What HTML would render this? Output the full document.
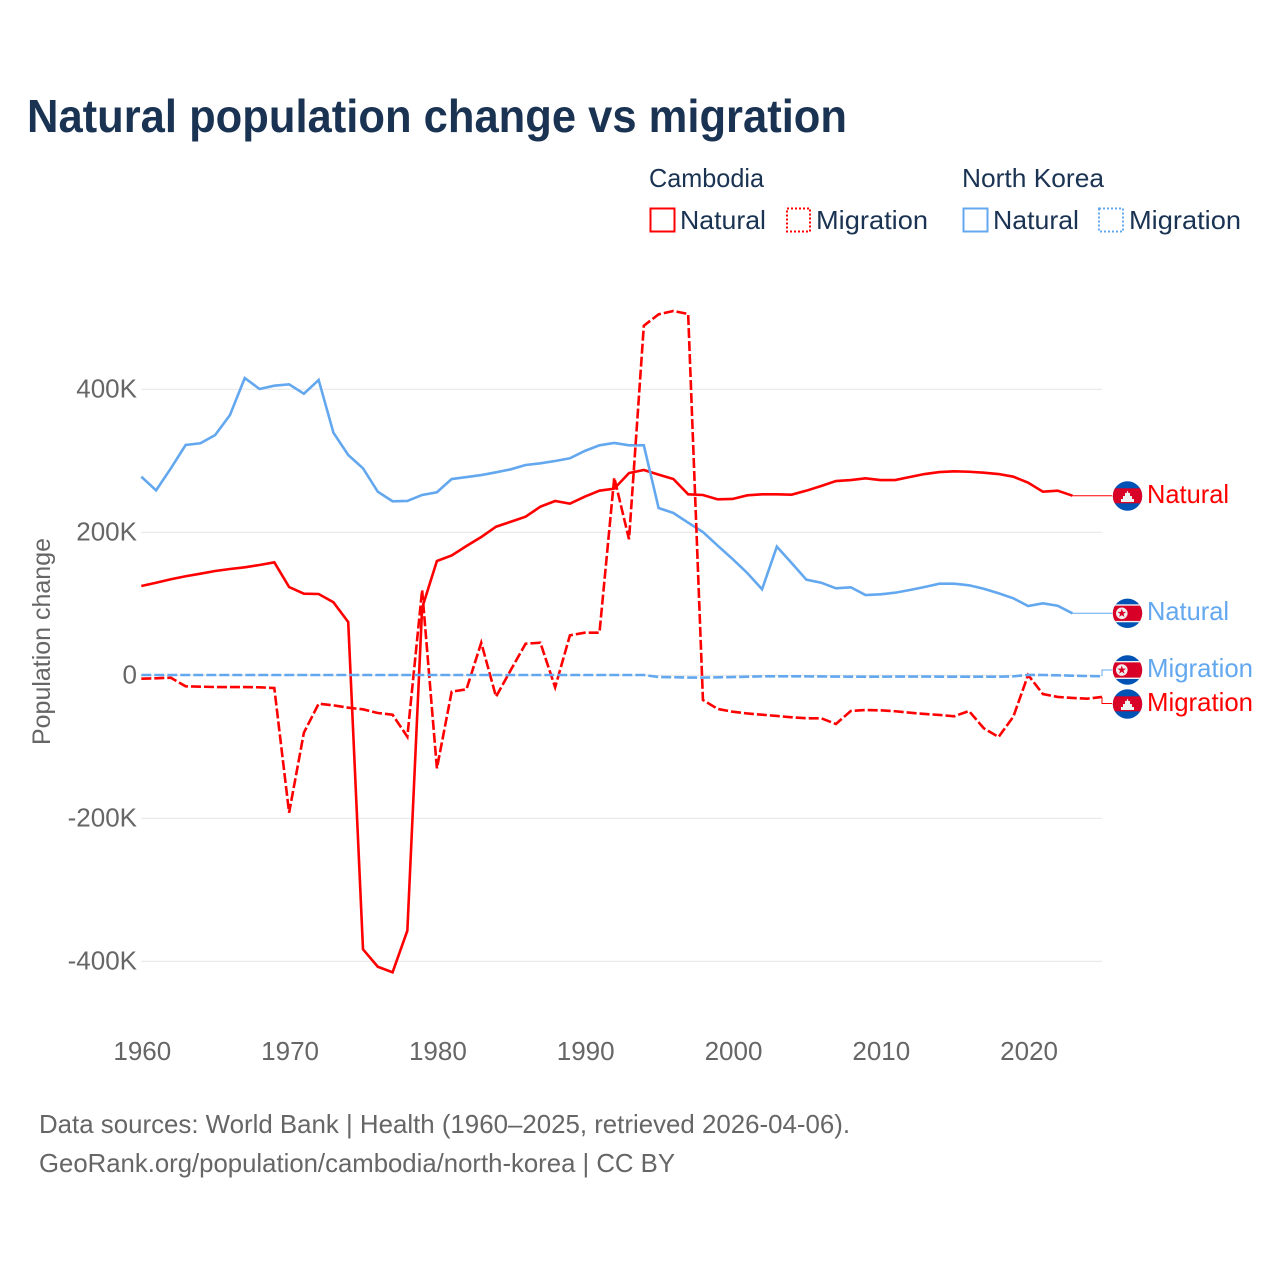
<!DOCTYPE html>
<html lang="en">
<head>
<meta charset="utf-8">
<title>Natural population change vs migration</title>
<style>
html,body{margin:0;padding:0;background:#fff;}
svg{display:block;}
text{font-family:"Liberation Sans",sans-serif;}
</style>
</head>
<body>
<svg id="chart" xmlns="http://www.w3.org/2000/svg" width="1280" height="1280" viewBox="0 0 1280 1280">
  <rect width="1280" height="1280" fill="#ffffff"/>
  <text x="27" y="132" font-size="46" font-weight="700" fill="#1a3353" textLength="820" lengthAdjust="spacingAndGlyphs">Natural population change vs migration</text>

  <g font-size="26" fill="#1a3353">
    <text x="649" y="187" textLength="115" lengthAdjust="spacingAndGlyphs">Cambodia</text>
    <text x="962" y="187" textLength="142" lengthAdjust="spacingAndGlyphs">North Korea</text>
    <rect x="650.5" y="208.5" width="24" height="23" fill="none" stroke="#ff0000" stroke-width="2"/>
    <text x="680" y="229" textLength="86" lengthAdjust="spacingAndGlyphs">Natural</text>
    <rect x="787" y="208.5" width="23" height="23" fill="none" stroke="#ff0000" stroke-width="2" stroke-dasharray="2,2"/>
    <text x="816" y="229" textLength="112" lengthAdjust="spacingAndGlyphs">Migration</text>
    <rect x="963.5" y="208.5" width="24" height="23" fill="none" stroke="#63a8ef" stroke-width="2"/>
    <text x="993" y="229" textLength="86" lengthAdjust="spacingAndGlyphs">Natural</text>
    <rect x="1099" y="208.5" width="24" height="23" fill="none" stroke="#63a8ef" stroke-width="2" stroke-dasharray="2,2"/>
    <text x="1129" y="229" textLength="112" lengthAdjust="spacingAndGlyphs">Migration</text>
  </g>

  <text transform="translate(50,745) rotate(-90)" font-size="25" fill="#666666" textLength="207" lengthAdjust="spacingAndGlyphs">Population change</text>

  <g id="y-axis"></g>
  <g id="x-axis"></g>
  <g id="series"></g>

  <defs>
    <clipPath id="flag-clip"><circle cx="0" cy="0" r="14.7"/></clipPath>
  </defs>

  <g transform="translate(1127.5,496)" clip-path="url(#flag-clip)">
    <rect x="-15" y="-15" width="30" height="30" fill="#0052b4"/>
    <rect x="-15" y="-7.7" width="30" height="15" fill="#d80027"/>
    <polygon points="-6.5,6 -6.5,3 -4.5,3 -4.5,0 -2.5,0 -2.5,-3 -1,-3 0,-5.5 1,-3 2.5,-3 2.5,0 4.5,0 4.5,3 6.5,3 6.5,6" fill="#f0f0f0"/>
  </g>
  <g transform="translate(1127.5,613.3)" clip-path="url(#flag-clip)">
    <rect x="-15" y="-15" width="30" height="30" fill="#0052b4"/>
    <rect x="-15" y="-9" width="30" height="18" fill="#f0f0f0"/>
    <rect x="-15" y="-7.6" width="30" height="15.2" fill="#d80027"/>
    <circle cx="-5.7" cy="0" r="5.8" fill="#f0f0f0"/>
    <polygon points="-5.7,-4.5 -4.6,-1.4 -1.4,-1.4 -4,0.6 -3,3.7 -5.7,1.8 -8.4,3.7 -7.4,0.6 -10,-1.4 -6.8,-1.4" fill="#d80027"/>
  </g>
  <g transform="translate(1127.5,670)" clip-path="url(#flag-clip)">
    <rect x="-15" y="-15" width="30" height="30" fill="#0052b4"/>
    <rect x="-15" y="-9" width="30" height="18" fill="#f0f0f0"/>
    <rect x="-15" y="-7.6" width="30" height="15.2" fill="#d80027"/>
    <circle cx="-5.7" cy="0" r="5.8" fill="#f0f0f0"/>
    <polygon points="-5.7,-4.5 -4.6,-1.4 -1.4,-1.4 -4,0.6 -3,3.7 -5.7,1.8 -8.4,3.7 -7.4,0.6 -10,-1.4 -6.8,-1.4" fill="#d80027"/>
  </g>
  <g transform="translate(1127.5,704)" clip-path="url(#flag-clip)">
    <rect x="-15" y="-15" width="30" height="30" fill="#0052b4"/>
    <rect x="-15" y="-7.7" width="30" height="15" fill="#d80027"/>
    <polygon points="-6.5,6 -6.5,3 -4.5,3 -4.5,0 -2.5,0 -2.5,-3 -1,-3 0,-5.5 1,-3 2.5,-3 2.5,0 4.5,0 4.5,3 6.5,3 6.5,6" fill="#f0f0f0"/>
  </g>

  <g font-size="26">
    <text x="1147" y="503" fill="#ff0000" textLength="82" lengthAdjust="spacingAndGlyphs">Natural</text>
    <text x="1147" y="620" fill="#63a8ef" textLength="82" lengthAdjust="spacingAndGlyphs">Natural</text>
    <text x="1147" y="677" fill="#63a8ef" textLength="106" lengthAdjust="spacingAndGlyphs">Migration</text>
    <text x="1147" y="711" fill="#ff0000" textLength="106" lengthAdjust="spacingAndGlyphs">Migration</text>
  </g>

  <g font-size="26" fill="#666666">
    <text x="39" y="1133" textLength="811" lengthAdjust="spacingAndGlyphs">Data sources: World Bank | Health (1960–2025, retrieved 2026-04-06).</text>
    <text x="39" y="1172" textLength="636" lengthAdjust="spacingAndGlyphs">GeoRank.org/population/cambodia/north-korea | CC BY</text>
  </g>
</svg>

<script>
const NS = 'http://www.w3.org/2000/svg';

const startYear = 1960;
const xTickYears = [1960, 1970, 1980, 1990, 2000, 2010, 2020];
const xTickLabels = ['1960', '1970', '1980', '1990', '2000', '2010', '2020'];
const yTickValues = [400, 200, 0, -200, -400];
const yTickLabels = ['400K', '200K', '0', '-200K', '-400K'];

const cambodiaNatural = [124.9,129.5,134.3,138.5,142.1,145.9,148.7,151,154.3,158,123.5,114.1,113.7,102.1,74.5,-383.2,-407.6,-415.4,-357.2,94.1,159.9,167.6,180.8,193.4,207.8,214.8,221.8,235.8,243.8,240,249.8,258.2,261,282.9,287.1,280.6,274.5,253.1,252.2,246.1,246.6,251.7,253.1,253.1,252.6,258.2,264.8,271.7,273.1,275.5,273.1,273.1,277.3,281.5,284.3,285.3,284.7,283.4,281.5,277.8,269.4,256.8,258.2,251.2];

const cambodiaMigration = [-4.8,-4.2,-3.4,-15.4,-15.9,-16.4,-16.4,-16.4,-16.8,-17.8,-192.2,-80.3,-39.7,-42,-45.3,-47.6,-52.7,-55.1,-85.9,119.3,-130.1,-22.9,-19.6,45.6,-29.9,7.4,44.2,45.6,-16.8,55.9,59.6,59.6,276.4,190.2,488.9,504.9,509.5,505.3,-34.5,-47.1,-50.9,-53.4,-55.1,-56.9,-58.7,-60.1,-60.1,-68.1,-49.9,-48.5,-49,-50.3,-52.3,-54.1,-55.5,-57.3,-49.9,-74.1,-86.3,-57.9,0.4,-26.2,-30.3,-31.7,-32.7,-30.3];

const northKoreaNatural = [277.8,258.7,289.5,322.1,324.5,336.1,364.1,415.8,400.4,405,407,393.8,413,339.3,308.1,289.5,256.8,243.4,243.8,252.2,256,274.5,277.3,280.1,283.9,288.1,294.1,296.5,299.7,303.5,313.7,321.7,324.9,321.7,321.7,234,227,213.4,200.4,181.3,162.7,143.1,120.3,179.9,157.1,133.7,129.5,121.7,123.1,112.3,113.3,115.5,119.3,123.5,128.1,128.1,125.9,121.1,114.7,107.7,96.9,100.7,97.3,86.7];

const northKoreaMigration = [0.4,0.4,0.4,0.4,0.4,0.4,0.4,0.4,0.4,0.4,0.4,0.4,0.4,0.4,0.4,0.4,0.4,0.4,0.4,0.4,0.4,0.4,0.4,0.4,0.4,0.4,0.4,0.4,0.4,0.4,0.4,0.4,0.4,0.4,0.4,-2.4,-2.7,-3.1,-3.1,-2.8,-2.4,-2,-1.5,-1.4,-1.4,-1.5,-1.6,-1.8,-1.9,-2,-1.9,-1.8,-1.7,-1.7,-1.9,-2,-2,-2,-2,-1.5,0.6,0.4,0,-0.5,-1,-1.4];

function xScale(year) { return 141.3 + (year - startYear) * 14.78; }
function yScale(value) { return 675.3 - value * 0.715; }

function linePath(values) {
  return values.map(function (v, i) {
    return (i ? 'L' : 'M') + xScale(startYear + i).toFixed(2) + ' ' + yScale(v).toFixed(2);
  }).join(' ');
}

const yAxis = document.getElementById('y-axis');
yTickValues.forEach(function (v, i) {
  const grid = document.createElementNS(NS, 'line');
  
  
  grid.setAttribute('x1', 141);
  grid.setAttribute('x2', 1102);
  grid.setAttribute('y1', yScale(v));
  grid.setAttribute('y2', yScale(v));
  grid.setAttribute('stroke', '#e8e8e8');
  grid.setAttribute('stroke-width', '1.2');
  yAxis.appendChild(grid);

  const label = document.createElementNS(NS, 'text');
  
  
  label.setAttribute('x', 137);
  label.setAttribute('y', yScale(v) + 8);
  label.setAttribute('text-anchor', 'end');
  label.setAttribute('font-size', '26');
  label.setAttribute('fill', '#666666');
  label.textContent = yTickLabels[i];
  yAxis.appendChild(label);
});

const xAxis = document.getElementById('x-axis');
xTickYears.forEach(function (year, i) {
  const label = document.createElementNS(NS, 'text');
  
  
  label.setAttribute('x', xScale(year) + 1);
  label.setAttribute('y', 1060);
  label.setAttribute('text-anchor', 'middle');
  label.setAttribute('font-size', '26');
  label.setAttribute('fill', '#666666');
  label.textContent = xTickLabels[i];
  xAxis.appendChild(label);
});

const seriesGroup = document.getElementById('series');

function drawSeries(values, color, dashed, name) {
  const path = document.createElementNS(NS, 'path');
  
  
  path.setAttribute('d', linePath(values));
  path.setAttribute('fill', 'none');
  path.setAttribute('stroke', color);
  path.setAttribute('stroke-width', '2.6');
  path.setAttribute('stroke-linejoin', 'miter');
  if (dashed) path.setAttribute('stroke-dasharray', '10,3');
  seriesGroup.appendChild(path);
}

function drawConnector(values, labelY, color, name) {
  const last = values.length - 1;
  const endX = xScale(startYear + last);
  const endY = yScale(values[last]);
  const stepX = Math.max(endX, 1102);
  const path = document.createElementNS(NS, 'path');
  
  
  path.setAttribute('d', 'M' + endX + ' ' + endY + ' L' + stepX + ' ' + endY + ' L' + stepX + ' ' + labelY + ' L1112 ' + labelY);
  path.setAttribute('fill', 'none');
  path.setAttribute('stroke', color);
  path.setAttribute('stroke-width', '1');
  seriesGroup.appendChild(path);
}

drawConnector(cambodiaNatural, 495.7, '#ff0000', 'connector-cambodia-natural');
drawConnector(northKoreaNatural, 613.3, '#63a8ef', 'connector-north-korea-natural');
drawConnector(cambodiaMigration, 703.5, '#ff0000', 'connector-cambodia-migration');
drawConnector(northKoreaMigration, 670, '#63a8ef', 'connector-north-korea-migration');

drawSeries(cambodiaNatural, '#ff0000', false, 'line-cambodia-natural');
drawSeries(northKoreaNatural, '#63a8ef', false, 'line-north-korea-natural');
drawSeries(cambodiaMigration, '#ff0000', true, 'line-cambodia-migration');
drawSeries(northKoreaMigration, '#63a8ef', true, 'line-north-korea-migration');
</script>
</body>
</html>
